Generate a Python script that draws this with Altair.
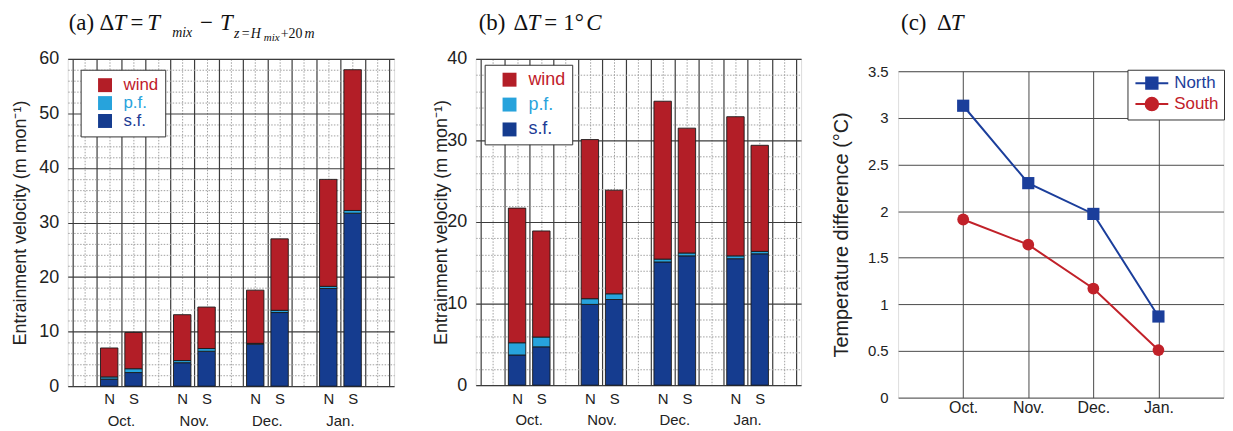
import json
import altair as alt
import pandas as pd

SANS = "Liberation Sans"
SERIF = "Liberation Serif"

MONTHS = ["Oct.", "Nov.", "Dec.", "Jan."]
HEMIS = ["N", "S"]
COMPONENTS = ["wind", "p.f.", "s.f."]
COMP_COLORS = ["#b31e27", "#27a3dc", "#153c8f"]
COMP_TEXT_COLORS = ["#c0202a", "#2aa3dc", "#1d3c96"]

# panel (a): dT = Tmix - T(z=Hmix+20m)
A_SF_N = [1.3, 4.3, 7.7, 17.9]
A_PF_N = [0.4, 0.4, 0.15, 0.4]
A_WIND_N = [5.3, 8.4, 9.75, 19.6]
A_SF_S = [2.5, 6.4, 13.5, 31.7]
A_PF_S = [0.7, 0.5, 0.4, 0.5]
A_WIND_S = [6.65, 7.6, 13.1, 25.8]

# panel (b): dT = 1 degC
B_SF_N = [3.7, 9.9, 15.1, 15.5]
B_PF_N = [1.5, 0.7, 0.35, 0.35]
B_WIND_N = [16.5, 19.5, 19.35, 17.05]
B_SF_S = [4.7, 10.5, 15.85, 16.1]
B_PF_S = [1.2, 0.7, 0.35, 0.3]
B_WIND_S = [13.0, 12.7, 15.3, 13.0]

# panel (c): temperature difference
SERIES = ["North", "South"]
SERIES_COLORS = ["#1b3e9b", "#c12129"]
C_NORTH = [3.13, 2.30, 1.97, 0.87]
C_SOUTH = [1.91, 1.64, 1.17, 0.51]

N_POS = [3 * i + 1.5 for i in range(len(MONTHS))]
S_POS = [3 * i + 2.5 for i in range(len(MONTHS))]
M_POS = [3 * i + 2 for i in range(len(MONTHS))]


def bar_frame(sfN, pfN, wN, sfS, pfS, wS):
    rows = []
    for i, m in enumerate(MONTHS):
        for h, pos, sf, pf, w in (("N", N_POS[i], sfN[i], pfN[i], wN[i]),
                                  ("S", S_POS[i], sfS[i], pfS[i], wS[i])):
            for k, (comp, v) in enumerate((("s.f.", sf), ("p.f.", pf), ("wind", w))):
                rows.append(dict(month=m, hemi=h, pos=pos, comp=comp, order=k, value=v))
    return pd.DataFrame(rows)


def cond(test, a, b):
    return {"condition": {"test": test, "value": a}, "value": b}


def seg(text, x, y, size, italic=False, font=SERIF):
    return alt.Chart(alt.Data(values=[{"t": text}])).mark_text(
        align="left", baseline="alphabetic", font=font, fontSize=size,
        fontStyle="italic" if italic else "normal", color="#111"
    ).encode(x=alt.value(x), y=alt.value(y), text="t:N")


def label_expr(names, values):
    expr = "'%s'" % values[-1]
    for n, c in reversed(list(zip(names[:-1], values[:-1]))):
        expr = "datum.label == '%s' ? '%s' : (%s)" % (n, c, expr)
    return expr


def bar_panel(df, ymax, w, h, segs, leg, title_x, label_pad):
    minor_x = "datum.value % 1 != 0"
    x_axis = alt.Axis(
        values=[k * 0.5 for k in range(27)],
        labelExpr="indexof(%s, datum.value) >= 0 ? 'N' : (indexof(%s, datum.value) >= 0 ? 'S' : '')"
        % (json.dumps(N_POS), json.dumps(S_POS)),
        labelFont=SANS, labelFontSize=15, labelColor="#222", labelPadding=label_pad,
        labelOverlap=False, labelFlush=False, ticks=False, domain=False, title=None,
        grid=True,
        gridColor=cond(minor_x, "#a0a0a0", "#3c3c3c"),
        gridDash=cond(minor_x, [1.5, 1.5], []),
        gridWidth=cond(minor_x, 1, 1.2),
    )
    minor_y = "datum.value % 10 != 0"
    y_axis = alt.Axis(
        values=list(range(0, ymax + 1, 2)),
        labelExpr="datum.value % 10 == 0 ? datum.label : ''",
        labelFont=SANS, labelFontSize=18, labelColor="#222", labelPadding=9,
        labelOverlap=False, labelFlush=False, ticks=False, domain=False,
        title="Entrainment velocity (m mon⁻¹)", titleFont=SANS, titleFontSize=18,
        titleFontWeight="normal", titleColor="#222", titleX=title_x, titleY=h / 2,
        titleAlign="center", titleBaseline="middle", titleAngle=270,
        grid=True,
        gridColor=cond(minor_y, "#a0a0a0", "#3c3c3c"),
        gridDash=cond(minor_y, [1.5, 1.5], []),
        gridWidth=cond(minor_y, 1, 1.2),
    )
    xdef = alt.X("pos:Q", scale=alt.Scale(domain=[0, 13], nice=False, zero=False), axis=x_axis)
    bars = alt.Chart(df).mark_bar(width=17.5, stroke="#1a1a1a", strokeWidth=0.9).encode(
        x=xdef,
        y=alt.Y("value:Q", stack="zero", scale=alt.Scale(domain=[0, ymax], nice=False), axis=y_axis),
        color=alt.Color("comp:N", scale=alt.Scale(domain=COMPONENTS, range=COMP_COLORS), legend=leg),
        order=alt.Order("order:Q", sort="ascending"),
    )
    mdf = pd.DataFrame({"month": MONTHS, "pos": M_POS})
    months = alt.Chart(mdf).mark_text(
        font=SANS, fontSize=15, color="#222", baseline="middle"
    ).encode(x=xdef, y=alt.value(h + 35), text="month:N")
    return alt.layer(bars, months, *segs).properties(width=w, height=h)


def comp_legend(x, y, size, pad, row_pad, sym_off, lab_off):
    return alt.Legend(
        title=None, orient="none", legendX=x, legendY=y, direction="vertical",
        symbolType="square", symbolSize=196, symbolStrokeWidth=0,
        labelFont=SANS, labelFontSize=size, labelOffset=lab_off,
        labelColor=alt.ExprRef(label_expr(COMPONENTS, COMP_TEXT_COLORS)),
        rowPadding=row_pad, padding=pad, symbolOffset=sym_off,
        strokeColor="#333", fillColor="white",
    )


TS = 23  # title font size

# ---------- panel (a)
A_W, A_H = 328, 329
segs_a = [
    seg("(a)", 1, -29, TS),
    seg("Δ", 32, -29, TS),
    seg("T", 46, -29, TS, True),
    seg("=", 63, -29, TS),
    seg("T", 80, -29, TS, True),
    seg("mix", 105, -22, 14, True),
    seg("−", 133, -29, TS),
    seg("T", 153, -29, TS, True),
    seg("z", 167, -21, 14, True),
    seg("=", 175, -21, 14),
    seg("H", 184, -21, 14, True),
    seg("mix", 197, -18, 11, True),
    seg("+20", 214, -21, 14),
    seg("m", 238, -21, 14, True),
]
panel_a = bar_panel(
    bar_frame(A_SF_N, A_PF_N, A_WIND_N, A_SF_S, A_PF_S, A_WIND_S), 60, A_W, A_H, segs_a,
    comp_legend(13, 11, 17, 7, 0, 9, 10), -47, 5)

# ---------- panel (b)
B_W, B_H = 327, 328
segs_b = [
    seg("(b)", 3, -29, TS),
    seg("Δ", 38, -29, TS),
    seg("T", 52, -29, TS, True),
    seg("=", 69, -29, TS),
    seg("1°", 88, -29, TS),
    seg("C", 111, -29, TS, True),
]
panel_b = bar_panel(
    bar_frame(B_SF_N, B_PF_N, B_WIND_N, B_SF_S, B_PF_S, B_WIND_S), 40, B_W, B_H, segs_b,
    comp_legend(9, 6, 18, 6, 7, 10, 10), -34, 6)

# ---------- panel (c)
C_W, C_H = 327, 328
rows = []
for s, vals in zip(SERIES, (C_NORTH, C_SOUTH)):
    for i, v in enumerate(vals):
        rows.append(dict(series=s, mi=i + 1, value=v))
dfc = pd.DataFrame(rows)

cscale = alt.Scale(domain=SERIES, range=SERIES_COLORS)
xc_axis = alt.Axis(
    values=list(range(1, len(MONTHS) + 1)),
    labelExpr="%s[datum.value - 1]" % json.dumps(MONTHS),
    labelFont=SANS, labelFontSize=16, labelColor="#222", labelPadding=2,
    labelFlush=False, ticks=False, domain=False, title=None,
    grid=True, gridColor="#4a4a4a", gridWidth=1,
)
yc_axis = alt.Axis(
    values=[k * 0.5 for k in range(8)], format="~g",
    labelFont=SANS, labelFontSize=15, labelColor="#222", labelPadding=10,
    labelFlush=False, ticks=False, domain=False,
    title="Temperature difference (°C)", titleFont=SANS, titleFontSize=20,
    titleFontWeight="normal", titleColor="#222", titleX=-56.5, titleY=C_H / 2,
    titleAlign="center", titleBaseline="middle", titleAngle=270,
    grid=True, gridColor="#4a4a4a", gridWidth=1,
)
xc = alt.X("mi:Q", scale=alt.Scale(domain=[0, 5], nice=False, zero=False), axis=xc_axis)
yc = alt.Y("value:Q", scale=alt.Scale(domain=[0, 3.5], nice=False, zero=True), axis=yc_axis)

lines = alt.Chart(dfc).mark_line(strokeWidth=2).encode(
    x=xc, y=yc, color=alt.Color("series:N", scale=cscale, legend=None))
pts_n = alt.Chart(dfc).transform_filter("datum.series == 'North'").mark_square(
    size=150, opacity=1).encode(
    x=xc, y=yc, color=alt.Color("series:N", scale=cscale, legend=None))
pts_s = alt.Chart(dfc).transform_filter("datum.series == 'South'").mark_circle(
    size=140, opacity=1).encode(
    x=xc, y=yc, color=alt.Color("series:N", scale=cscale, legend=None))

# legend symbols: a short line with the marker in the middle
PATH_SQ = "M-2.75,0H2.75M-0.95,-0.95H0.95V0.95H-0.95Z"
PATH_CI = "M-2.75,0H2.75M1.05,0A1.05,1.05,0,1,1,-1.05,0A1.05,1.05,0,1,1,1.05,0Z"
# this legend is lifted to the top-level group, whose origin is panel (a)'s plot corner
leg_c = alt.Legend(
    title=None, orient="none", legendX=1065, legendY=11, direction="vertical",
    symbolSize=144, symbolStrokeWidth=2, symbolOffset=11,
    labelFont=SANS, labelFontSize=17, labelOffset=14,
    labelColor=alt.ExprRef(label_expr(SERIES, SERIES_COLORS)),
    rowPadding=0, padding=5, strokeColor="#333", fillColor="white",
)
leg_layer = alt.Chart(dfc).transform_filter("false").mark_point(
    size=144, strokeWidth=2, opacity=1).encode(
    x=xc, y=yc,
    fill=alt.Fill("series:N", scale=alt.Scale(domain=SERIES, range=SERIES_COLORS), legend=leg_c),
    stroke=alt.Stroke("series:N", scale=alt.Scale(domain=SERIES, range=SERIES_COLORS), legend=leg_c),
    shape=alt.Shape("series:N", scale=alt.Scale(domain=SERIES, range=[PATH_SQ, PATH_CI]), legend=leg_c),
)

panel_c = alt.layer(lines, pts_n, pts_s, leg_layer).properties(width=C_W, height=C_H)

segs_c = [
    seg("(c)", 3, -29, TS),
    seg("Δ", 39, -29, TS),
    seg("T", 53, -29, TS, True),
]
title_c = alt.layer(*segs_c).properties(
    width=C_W, height=1, view=alt.ViewBackground(stroke="transparent"))
col_c = alt.vconcat(title_c, panel_c, spacing=2.5)

IND = dict(color="independent")

inner = alt.hconcat(panel_a, panel_b, spacing=37).resolve_scale(**IND).resolve_legend(**IND)
chart = alt.hconcat(inner, col_c, spacing=29.5).resolve_scale(
    **IND).resolve_legend(**IND).properties(
    padding={"left": 3, "top": 2, "right": 0, "bottom": 0}
).configure_view(
    stroke="#333", strokeWidth=1.3
).configure(background="white")

chart.save("out.html", embed_options={"renderer": "svg", "actions": False})
